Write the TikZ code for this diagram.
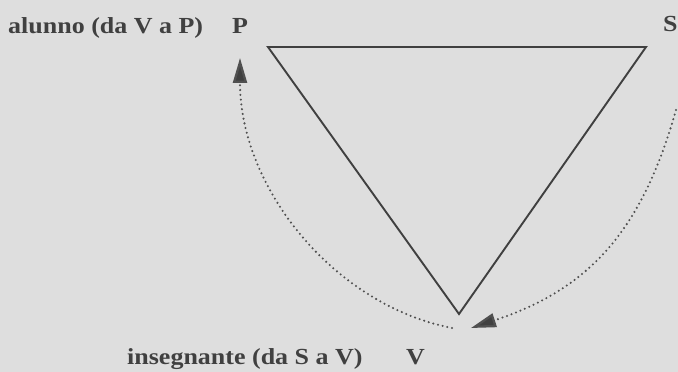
\documentclass[tikz,border=0pt]{standalone}
\usepackage{fontspec}
\setmainfont{Liberation Serif}
\usepackage{xcolor}
\usepackage{tikz}
\usetikzlibrary{arrows.meta,positioning}
\definecolor{paper}{RGB}{222,222,222}
\definecolor{ink}{RGB}{64,64,64}
\definecolor{dotink}{RGB}{80,80,80}
\newcommand{\lbl}[1]{\scalebox{1.13}[1]{\fontsize{23}{25}\selectfont\bfseries #1}}
\tikzset{
  side/.style={
    draw=ink,
    line width=1.9pt,
    line join=miter
  },
  passage/.style={
    draw=dotink,
    line width=2.3pt,
    line cap=round,
    dash pattern=on 0pt off 4.8pt,
    -{Triangle[length=25pt,width=14pt,fill=ink]}
  },
  tag/.style={
    text=ink,
    inner sep=0pt,
    anchor=base west
  }
}

\begin{document}
\begin{tikzpicture}[x=1pt,y=1pt]
  % Background
  \fill[paper] (0,0) rectangle (678,372);
  \useasboundingbox (0,0) rectangle (678,372);

  % Vertices
  \coordinate (P) at (268,325);
  \coordinate (S) at (646,325);
  \coordinate (V) at (459,58);

  % Triangle
  \draw[side] (P) -- (S) -- (V) -- cycle;

  % Labels
  \node[tag] (alunno) at (8,338) {\lbl{alunno (da V a P)}};
  \node[tag] (lblP) at (232,338) {\lbl{P}};
  \node[tag] (lblS) at (663,340) {\lbl{S}};
  \node[tag] (insegnante) at (127,7) {\lbl{insegnante (da S a V)}};
  \node[tag] (lblV) at (406,7) {\lbl{V}};

  % Passages
  \coordinate (fromV) at (452,44);
  \coordinate (toP) at (240,314);
  \coordinate (fromS) at (676,262);
  \coordinate (toV) at (471,44);
  \draw[passage] (fromV) .. controls (334,67) and (240,184) .. (toP);
  \draw[passage] (fromS) .. controls (642,142) and (590,83) .. (toV);
\end{tikzpicture}
\end{document}
